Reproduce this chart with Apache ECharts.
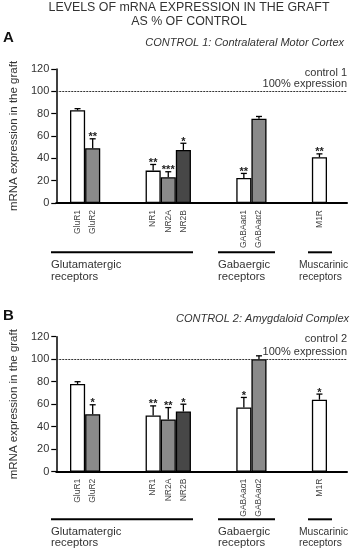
<!DOCTYPE html>
<html>
<head>
<meta charset="utf-8">
<script src="https://cdn.jsdelivr.net/npm/echarts@6/dist/echarts.min.js"></script>
<style>
  html, body { margin: 0; padding: 0; background: #fff; }
  #chart { width: 355px; height: 553px; }
</style>
</head>
<body>
<div id="chart"></div>
<script>
  // receptor subunits on the x axis, blanks are the gaps between groups
  const categories = ['GluR1', 'GluR2', ' ', '  ', '   ', 'NR1', 'NR2A', 'NR2B', '    ', '     ', '      ',
    'GABAaα1', 'GABAaα2', '       ', '        ', '         ', 'M1R'];

  // panel A: control 1 (contralateral motor cortex)
  const meanA = [83, 49, null, null, null, 29, 23, 47.5, null, null, null, 22.5, 75.5, null, null, null, 41];
  const errA = [1.5, 8.5, null, null, null, 5.5, 5, 6, null, null, null, 4, 2, null, null, null, 3];
  const starsA = ['', '**', '', '', '', '**', '***', '*', '', '', '', '**', '', '', '', '', '**'];

  // panel B: control 2 (amygdaloid complex)
  const meanB = [78, 51, null, null, null, 50, 46.5, 53.5, null, null, null, 57, 100, null, null, null, 64];
  const errB = [2, 8.5, null, null, null, 8.5, 10.5, 6.5, null, null, null, 9, 3, null, null, null, 5];
  const starsB = ['', '*', '', '', '', '**', '**', '*', '', '', '', '*', '', '', '', '', '*'];

  const yTicks = [0, 20, 40, 60, 80, 100, 120];

  // bar fill per slot (white / grey / dark grey)
  const fills = ['#ffffff', '#8a8a8a', null, null, null, '#ffffff', '#8a8a8a', '#474747', null, null, null,
    '#ffffff', '#8a8a8a', null, null, null, '#ffffff'];

  const font = 'Liberation Sans, Arial, sans-serif';
  const txt = '#333';

  // plot boxes: [top, height] for panel A and B
  const boxA = [69, 134];
  const boxB = [336.7, 135];
  const axLeft = 53, axWidth = 294;

  const chart = echarts.init(document.getElementById('chart'));

  function errRender(stars) {
    return function (params, api) {
      const i = api.value(0);
      const top = api.coord([i, api.value(1) + api.value(2)]);
      const base = api.coord([i, api.value(1)]);
      const x = base[0];
      const kids = [
        { type: 'line', shape: { x1: x, y1: base[1], x2: x, y2: top[1] }, style: { stroke: '#000', lineWidth: 1.3 } },
        { type: 'line', shape: { x1: x - 3, y1: top[1], x2: x + 3, y2: top[1] }, style: { stroke: '#000', lineWidth: 1.3 } }
      ];
      const s = stars[i];
      if (s) {
        kids.push({ type: 'text', style: { text: s, x: x, y: top[1] + 4, align: 'center', verticalAlign: 'bottom',
          font: 'bold 11px ' + font, fill: '#222' } });
      }
      return { type: 'group', children: kids };
    };
  }

  function errData(mean, err) {
    const out = [];
    mean.forEach((m, i) => { if (m !== null) out.push([i, m, err[i]]); });
    return out;
  }

  // grid 0/2 carries the axes, grid 1/3 the bars (narrower so the bars land where they should)
  function panelGrids(box) {
    return [
      { left: axLeft, top: box[0], width: axWidth, height: box[1] },
      { left: 70, top: box[0], width: 257, height: box[1] }
    ];
  }

  function axisX(gi) {
    return {
      type: 'category', gridIndex: gi, data: [''], position: 'bottom',
      axisLine: { show: true, onZero: false, lineStyle: { color: '#000', width: 2 } },
      axisTick: { show: false }, axisLabel: { show: false }, splitLine: { show: false }
    };
  }
  function barX(gi) {
    return {
      type: 'category', gridIndex: gi, data: categories,
      axisLine: { show: false }, axisTick: { show: false }, splitLine: { show: false },
      axisLabel: { interval: 0, rotate: 90, fontSize: 8.5, color: '#444', fontFamily: font, margin: 7 }
    };
  }
  function axisY(gi) {
    return {
      type: 'value', gridIndex: gi, min: yTicks[0], max: yTicks[yTicks.length - 1], interval: 20,
      name: 'mRNA expression in the graft', nameLocation: 'middle', nameGap: 34,
      nameTextStyle: { fontSize: 11.5, color: txt, fontFamily: font },
      axisLine: { show: true, onZero: false, lineStyle: { color: '#000', width: 1.5 } },
      axisTick: { show: true, length: 5, lineStyle: { color: '#000', width: 1.2 } },
      axisLabel: { fontSize: 11, color: txt, fontFamily: font, margin: 7 },
      splitLine: { show: false }
    };
  }
  function barY(gi) {
    return { type: 'value', gridIndex: gi, min: 0, max: 120, show: false, splitLine: { show: false } };
  }

  function panelSeries(ax, bx, mean, err, stars) {
    return [
      {
        // only here to hold the 100% dotted line across the whole axis width
        type: 'line', xAxisIndex: ax, yAxisIndex: ax, data: [], silent: true, clip: false,
        markLine: {
          symbol: 'none', silent: true, label: { show: false },
          lineStyle: { type: [2, 1], color: '#333', width: 1.2 },
          data: [{ yAxis: 100 }]
        }
      },
      {
        type: 'bar', xAxisIndex: bx, yAxisIndex: bx, barCategoryGap: 0,
        data: mean.map((v, i) => v === null ? null : {
          value: v, itemStyle: { color: fills[i], borderColor: '#000', borderWidth: 1.3 }
        })
      },
      {
        type: 'custom', xAxisIndex: bx, yAxisIndex: bx, renderItem: errRender(stars),
        data: errData(mean, err), z: 5
      }
    ];
  }

  function t(x, y, text, size) {
    return { type: 'text', x: x, y: y,
      style: { text: text, font: size + 'px ' + font, fill: txt, align: 'left', verticalAlign: 'middle' } };
  }
  function tt(x, y, text, size, extra) {
    const g = t(x, y, text, size);
    Object.assign(g.style, extra);
    return g;
  }
  function hline(y, x1, x2) {
    return { type: 'line', z: 10, shape: { x1: x1, y1: y, x2: x2, y2: y }, style: { stroke: '#000', lineWidth: 2 } };
  }
  function groupLabels(lineY, y1, y2) {
    return [
      hline(lineY, 51, 193), hline(lineY, 218, 275), hline(lineY, 308, 332),
      t(51, y1, 'Glutamatergic', 11.3), t(51, y2, 'receptors', 11.3),
      t(218, y1, 'Gabaergic', 11.3), t(218, y2, 'receptors', 11.3),
      t(299, y1, 'Muscarinic', 10.3), t(299, y2, 'receptors', 10.3)
    ];
  }

  const option = {
    animation: false,
    grid: panelGrids(boxA).concat(panelGrids(boxB)),
    xAxis: [axisX(0), barX(1), axisX(2), barX(3)],
    yAxis: [axisY(0), barY(1), axisY(2), barY(3)],
    series: panelSeries(0, 1, meanA, errA, starsA).concat(panelSeries(2, 3, meanB, errB, starsB)),
    graphic: [
      tt(189, 8, 'LEVELS OF mRNA EXPRESSION IN THE GRAFT', 12.4, { align: 'center' }),
      tt(189, 21.5, 'AS % OF CONTROL', 12.4, { align: 'center' }),
      tt(3, 38, 'A', 15, { font: 'bold 15px ' + font, fill: '#111' }),
      tt(3, 316, 'B', 15, { font: 'bold 15px ' + font, fill: '#111' }),
      tt(344, 43, 'CONTROL 1: Contralateral Motor Cortex', 11, { align: 'right', font: 'italic 11px ' + font }),
      tt(349, 319, 'CONTROL 2: Amygdaloid Complex', 11, { align: 'right', font: 'italic 11px ' + font }),
      tt(347, 72.7, 'control 1', 11, { align: 'right' }),
      tt(347, 84.3, '100% expression', 11, { align: 'right' }),
      tt(347, 339.3, 'control 2', 11, { align: 'right' }),
      tt(347, 351.7, '100% expression', 11, { align: 'right' })
    ].concat(groupLabels(252.3, 265, 277)).concat(groupLabels(519.3, 531.7, 543.3))
  };

  chart.setOption(option);
</script>
</body>
</html>
